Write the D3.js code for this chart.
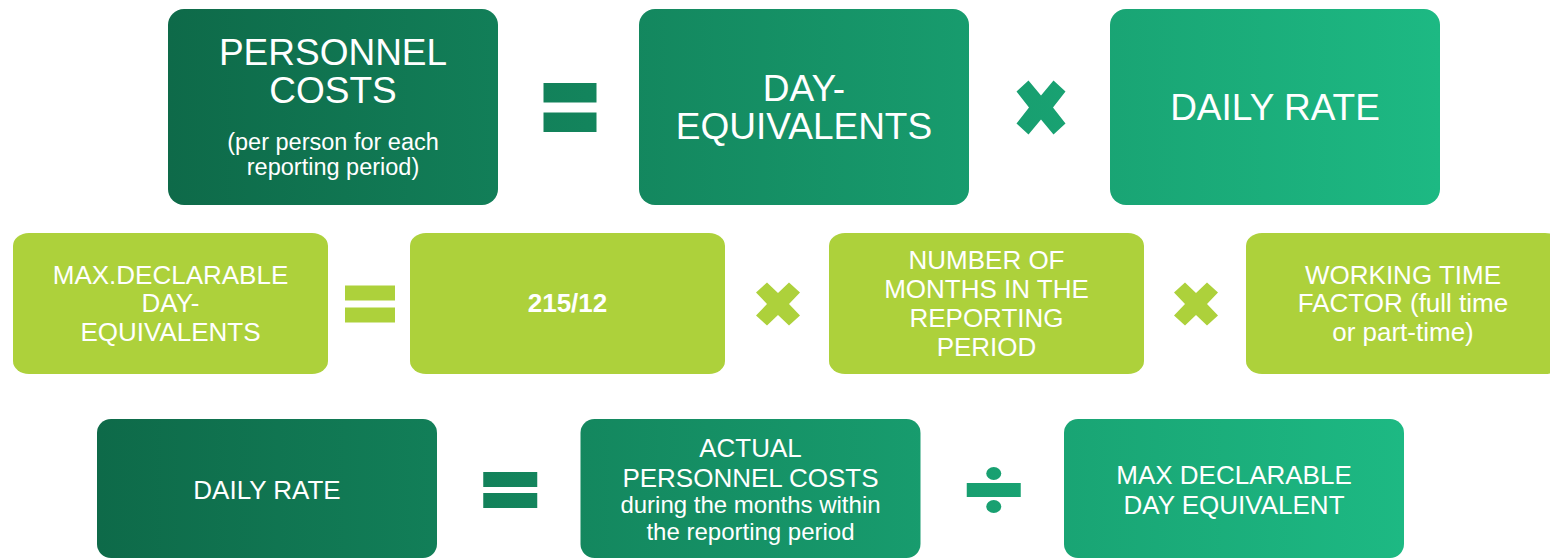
<!DOCTYPE html>
<html>
<head>
<meta charset="utf-8">
<script src="https://cdn.jsdelivr.net/npm/d3@7"></script>
<style>
  body { margin: 0; background: #fff; overflow: hidden; }
  text { font-family: "Liberation Sans", Arial, sans-serif; fill: #fff; }
</style>
</head>
<body>
<svg id="chart" width="1550" height="559"></svg>
<script>
// rij 1: personeelskosten = dag-equivalenten x dagtarief
const top_titles = [["PERSONNEL", "COSTS"], ["DAY-", "EQUIVALENTS"], ["DAILY RATE"]];
const top_notes = [["(per person for each", "reporting period)"], [], []];
const top_ops = ["equals", "times"];
// rij 2: max. declarabele dag-equivalenten
const mid_titles = [["MAX.DECLARABLE", "DAY-", "EQUIVALENTS"], ["215/12"],
                    ["NUMBER OF", "MONTHS IN THE", "REPORTING", "PERIOD"],
                    ["WORKING TIME", "FACTOR (full time", "or part-time)"]];
const mid_notes = [[], [], [], []];
const mid_ops = ["equals", "times", "times"];
// rij 3: dagtarief
const bot_titles = [["DAILY RATE"], ["ACTUAL", "PERSONNEL COSTS"], ["MAX DECLARABLE", "DAY EQUIVALENT"]];
const bot_notes = [[], ["during the months within", "the reporting period"], []];
const bot_ops = ["equals", "divide"];
const bold_labels = ["215/12"];

const svg = d3.select("#chart");
const defs = svg.append("defs");

let make_gradient = (id, x1, x2) => {
    const g = defs.append("linearGradient")
        .attr("id", id)
        .attr("gradientUnits", "userSpaceOnUse")
        .attr("x1", x1).attr("x2", x2).attr("y1", 0).attr("y2", 0);
    g.append("stop").attr("offset", 0).attr("stop-color", "#0E6A49");
    g.append("stop").attr("offset", 1).attr("stop-color", "#1DB983");
}
make_gradient("grad_top", 168, 1440);
make_gradient("grad_bot", 97, 1405);

// vorm van het keer-teken
let x_path = (cx, cy, W, H, a, b, c, d) => {
    const w = W / 2, h = H / 2;
    const pts = [[-w + a, -h], [0, -c], [w - a, -h], [w, -h + b], [d, 0], [w, h - b],
                 [w - a, h], [0, c], [-w + a, h], [-w, h - b], [-d, 0], [-w, -h + b]];
    return "M" + pts.map(p => (cx + p[0]) + "," + (cy + p[1])).join("L") + "Z";
}

let draw_op = (kind, cx, cy, fill, o) => {
    if (kind === "equals") {
        svg.append("rect").attr("x", cx - o.w / 2).attr("y", cy - o.gap / 2 - o.bar)
            .attr("width", o.w).attr("height", o.bar).attr("fill", fill);
        svg.append("rect").attr("x", cx - o.w / 2).attr("y", cy + o.gap / 2)
            .attr("width", o.w).attr("height", o.bar).attr("fill", fill);
    }
    else if (kind === "times") {
        svg.append("path").attr("d", x_path(cx, cy, o.xw, o.xh, o.xa, o.xb, o.xc, o.xd)).attr("fill", fill);
    }
    else {
        svg.append("rect").attr("x", cx - o.w / 2).attr("y", cy - 7)
            .attr("width", o.w).attr("height", 14).attr("fill", fill);
        svg.append("ellipse").attr("cx", cx).attr("cy", cy - 16.5).attr("rx", 7.5).attr("ry", 6.5).attr("fill", fill);
        svg.append("ellipse").attr("cx", cx).attr("cy", cy + 16.5).attr("rx", 7.5).attr("ry", 6.5).attr("fill", fill);
    }
}

// teken een rij vakken met tekst en operatoren ertussen
let draw_row = (titles, notes, ops, cfg) => {
    const cy = cfg.y + cfg.h / 2;
    titles.forEach((lines, i) => {
        const x = cfg.xs(i);
        svg.append("rect")
            .attr("x", x).attr("y", cfg.y)
            .attr("width", cfg.w).attr("height", cfg.h)
            .attr("rx", cfg.rx).attr("ry", cfg.ry)
            .attr("fill", cfg.fill);
        const cx = (i === titles.length - 1 && cfg.lastCx) ? cfg.lastCx : x + cfg.w / 2;
        const sub = notes[i] || [];
        // basislijnen relatief aan de eerste regel
        let rows = [];
        let b = 0;
        lines.forEach((t, k) => {
            if (k > 0) b += cfg.lt;
            rows.push({ t: t, b: b, s: cfg.ts });
        });
        sub.forEach((t, k) => {
            b += (k === 0) ? cfg.gap : cfg.ln;
            rows.push({ t: t, b: b, s: cfg.ns });
        });
        const first = -0.72 * cfg.ts;
        const shift = cy + cfg.dy - (first + b) / 2;
        rows.forEach(r => {
            svg.append("text")
                .attr("x", cx).attr("y", shift + r.b)
                .attr("text-anchor", "middle")
                .attr("font-size", r.s)
                .attr("font-weight", bold_labels.includes(r.t) ? "bold" : "normal")
                .text(r.t);
        });
    });
    ops.forEach((k, i) => {
        const ox = (cfg.xs(i) + cfg.w + cfg.xs(i + 1)) / 2 + cfg.odx;
        draw_op(k, ox, cy + cfg.ody, cfg.opFill, cfg.op);
    });
}

draw_row(top_titles, top_notes, top_ops, {
    xs: d3.scaleLinear().domain([0, 2]).range([168, 1110]),
    y: 9, h: 196, w: 330, rx: 16, ry: 16, fill: "url(#grad_top)",
    ts: 37, lt: 38, ns: 23.5, gap: 47, ln: 25, dy: 0,
    odx: 1.5, ody: 0.5, opFill: "url(#grad_top)",
    op: { w: 53, bar: 19.5, gap: 10, xw: 49, xh: 54, xa: 12, xb: 11, xc: 12, xd: 12 }
});

const mid_x = [13, 410, 829, 1246];
draw_row(mid_titles, mid_notes, mid_ops, {
    xs: i => mid_x[i],
    y: 233, h: 141, w: 315, rx: 16, ry: 13, fill: "#ADD13B", lastCx: 1403,
    ts: 26, lt: 28.8, ns: 24, gap: 27, ln: 27, dy: -0.5,
    odx: 1, ody: 0.5, opFill: "#ADD13B",
    op: { w: 50, bar: 15, gap: 7, xw: 44, xh: 43, xa: 11, xb: 10, xc: 11, xd: 11 }
});

draw_row(bot_titles, bot_notes, bot_ops, {
    xs: d3.scaleLinear().domain([0, 2]).range([97, 1064]),
    y: 419, h: 139, w: 340, rx: 14, ry: 14, fill: "url(#grad_bot)",
    ts: 26, lt: 30, ns: 24, gap: 26, ln: 27, dy: 1,
    odx: 1.5, ody: 1.5, opFill: "url(#grad_bot)",
    op: { w: 54, bar: 15, gap: 6, xw: 49, xh: 54, xa: 12, xb: 11, xc: 12, xd: 12 }
});
</script>
</body>
</html>
